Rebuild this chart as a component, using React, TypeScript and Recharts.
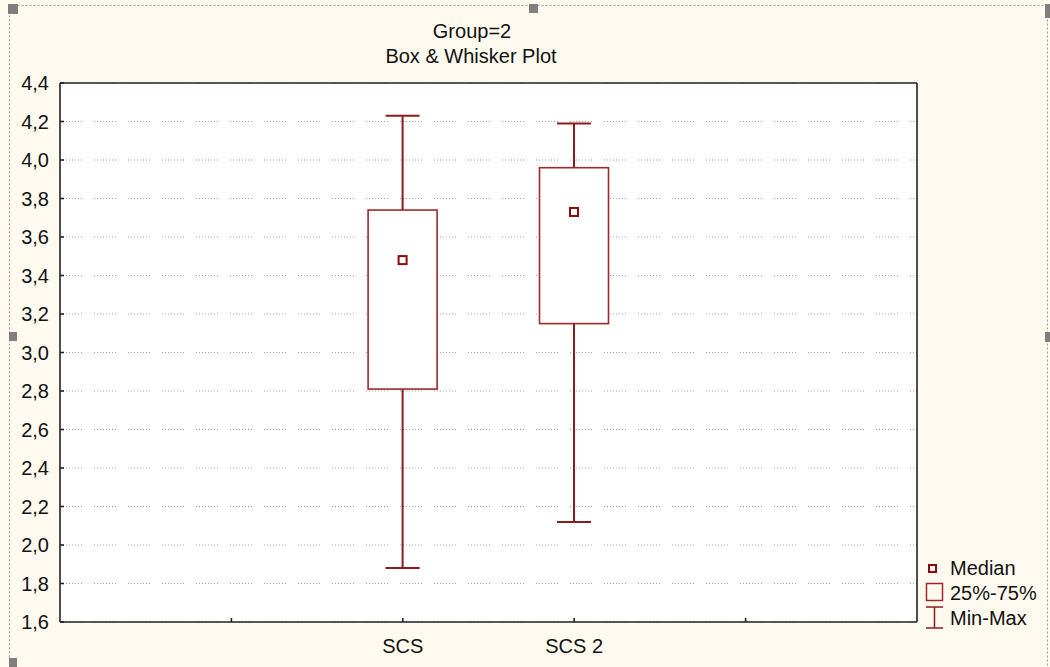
import React from 'react';
import { ComposedChart, Bar, XAxis, YAxis, CartesianGrid } from 'recharts';

// values
const categories = ['SCS', 'SCS 2'];
const xPositions = [2, 3];
const minValues = [1.88, 2.12];
const q1Values = [2.81, 3.15];
const medianValues = [3.48, 3.73];
const q3Values = [3.74, 3.96];
const maxValues = [4.23, 4.19];

const yTicks = [1.6, 1.8, 2.0, 2.2, 2.4, 2.6, 2.8, 3.0, 3.2, 3.4, 3.6, 3.8, 4.0, 4.2, 4.4];
const xTicks = [1, 2, 3, 4];

const data = categories.map((name, i) => ({
  name,
  x: xPositions[i],
  range: [minValues[i], maxValues[i]],
  min: minValues[i],
  q1: q1Values[i],
  median: medianValues[i],
  q3: q3Values[i],
  max: maxValues[i],
}));

const FONT = '"Liberation Sans", Arial, sans-serif';
const BG = '#fffaef';
const BOX = '#9e2a2a';
const WHISK = '#8e1b1b';
const MED = '#8b0a0a';

const fmt = (v: number) => v.toFixed(1).replace('.', ',');
const xLabel = (v: number) => {
  const i = xPositions.indexOf(v);
  return i >= 0 ? categories[i] : '';
};

// draws whiskers, box and median from the bar that spans min..max
const BoxShape = (props: any) => {
  const { x, y, width, height, payload } = props;
  if (!payload) return null;
  const k = height / (payload.max - payload.min);
  const py = (v: number) => y + (payload.max - v) * k;
  const cx = x + width / 2;
  const cap = 17;
  const m = py(payload.median);
  return (
    <g>
      <line x1={cx} x2={cx} y1={py(payload.max)} y2={py(payload.q3)} stroke={WHISK} strokeWidth={2} />
      <line x1={cx} x2={cx} y1={py(payload.q1)} y2={py(payload.min)} stroke={WHISK} strokeWidth={2} />
      <line x1={cx - cap} x2={cx + cap} y1={py(payload.max)} y2={py(payload.max)} stroke={WHISK} strokeWidth={2} />
      <line x1={cx - cap} x2={cx + cap} y1={py(payload.min)} y2={py(payload.min)} stroke={WHISK} strokeWidth={2} />
      <rect
        x={x}
        y={py(payload.q3)}
        width={width}
        height={py(payload.q1) - py(payload.q3)}
        fill="#fff"
        stroke={BOX}
        strokeWidth={1.6}
      />
      <rect x={cx - 4} y={m - 4} width={8} height={8} fill="#fff" stroke={MED} strokeWidth={2} />
    </g>
  );
};

const Overlay = () => (
  <svg
    width={1050}
    height={667}
    style={{ position: 'absolute', left: 0, top: 0, pointerEvents: 'none' }}
  >
    <rect x={9.5} y={5.5} width={1038} height={700} fill="none" stroke="#9a9a9a" strokeDasharray="2 2" />
    {[
      [8, 4, 10, 10],
      [529, 4, 9, 9],
      [9, 332, 8, 9],
      [9, 658, 8, 9],
      [1045, 332, 5, 10],
      [1045, 4, 5, 14],
    ].map(([hx, hy, hw, hh], i) => (
      <rect key={i} x={hx} y={hy} width={hw} height={hh} fill="#7f7f7f" />
    ))}
    <text x={472} y={38} textAnchor="middle" fontFamily={FONT} fontSize={20} fill="#111">
      Group=2
    </text>
    <text x={471} y={63} textAnchor="middle" fontFamily={FONT} fontSize={20} fill="#111">
      Box &amp; Whisker Plot
    </text>
    {/* legend */}
    <rect x={929} y={565} width={7} height={7} fill="#fff" stroke={MED} strokeWidth={2} />
    <text x={950} y={575} fontFamily={FONT} fontSize={20} fill="#111">Median</text>
    <rect x={926.5} y={583.5} width={16} height={17} fill="none" stroke={BOX} strokeWidth={1.5} />
    <text x={950} y={600} fontFamily={FONT} fontSize={20} fill="#111">25%-75%</text>
    <line x1={926} x2={943} y1={607} y2={607} stroke={WHISK} strokeWidth={1.5} />
    <line x1={934.5} x2={934.5} y1={607} y2={628} stroke={WHISK} strokeWidth={1.5} />
    <line x1={926} x2={943} y1={628} y2={628} stroke={WHISK} strokeWidth={1.5} />
    <text x={950} y={625} fontFamily={FONT} fontSize={20} fill="#111">Min-Max</text>
  </svg>
);

export default function App() {
  const axisLine = { stroke: '#222', strokeWidth: 1.6 };
  const tickLine = { stroke: '#222', strokeWidth: 1.6 };
  return (
    <div
      style={{
        position: 'absolute',
        left: 0,
        top: 0,
        width: 1050,
        height: 667,
        background: BG,
        overflow: 'hidden',
        fontFamily: FONT,
      }}
    >
      <ComposedChart
        width={1050}
        height={667}
        data={data}
        margin={{ top: 82, right: 132, bottom: 0, left: 0 }}
      >
        <CartesianGrid
          horizontal
          vertical={false}
          fill="#fff"
          stroke="#a0a0a0"
          strokeDasharray="1 2 1 2 1 2 1 2 1 2 1 2 1 2 1 12"
        />
        <XAxis
          dataKey="x"
          type="number"
          domain={[0, 5]}
          ticks={xTicks}
          tickFormatter={xLabel}
          height={45}
          tickSize={-4}
          tickMargin={21}
          axisLine={axisLine}
          tickLine={tickLine}
          tick={{ fill: '#111', fontSize: 20, fontFamily: FONT }}
          interval={0}
        />
        <XAxis
          xAxisId="top"
          orientation="top"
          type="number"
          domain={[0, 5]}
          ticks={xTicks}
          height={1}
          tickSize={-5}
          tick={false}
          axisLine={axisLine}
          tickLine={tickLine}
        />
        <YAxis
          type="number"
          domain={[1.6, 4.4]}
          ticks={yTicks}
          tickFormatter={fmt}
          width={60}
          tickSize={-4}
          tickMargin={15}
          axisLine={axisLine}
          tickLine={tickLine}
          tick={{ fill: '#111', fontSize: 20, fontFamily: FONT }}
          interval={0}
          allowDataOverflow
        />
        <YAxis
          yAxisId="right"
          orientation="right"
          type="number"
          domain={[1.6, 4.4]}
          ticks={yTicks}
          width={1}
          tickSize={-6}
          tick={false}
          axisLine={axisLine}
          tickLine={tickLine}
          interval={0}
        />
        <Bar dataKey="range" barSize={69} shape={BoxShape} isAnimationActive={false} />
      </ComposedChart>
      <Overlay />
    </div>
  );
}
